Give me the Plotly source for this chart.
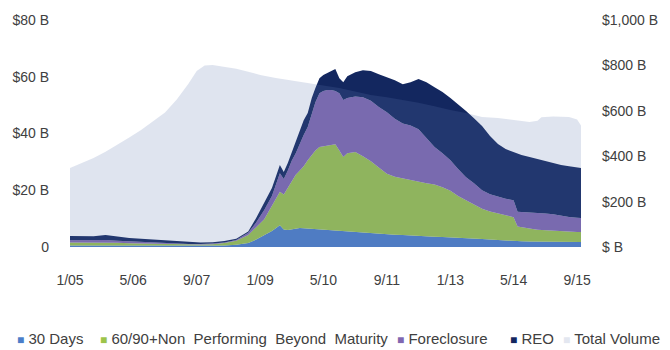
import plotly.graph_objects as go

# Delinquency pipeline, $B, sampled along the observation dates below
dq_dates = [
    "2005-01-01", "2005-04-01", "2005-07-01", "2005-10-01",
    "2006-01-01", "2006-04-01", "2006-07-01", "2006-10-01",
    "2007-01-01", "2007-04-01", "2007-07-01", "2007-10-01",
    "2008-01-01", "2008-04-01", "2008-07-01", "2008-10-01", "2008-12-01",
    "2009-02-01", "2009-04-01", "2009-06-01", "2009-07-01", "2009-08-01",
    "2009-09-01", "2009-10-01", "2009-11-01", "2009-12-01",
    "2010-01-01", "2010-02-01", "2010-03-01", "2010-04-01", "2010-05-01",
    "2010-06-01", "2010-07-01", "2010-08-01", "2010-09-01", "2010-10-01",
    "2010-11-01",
    "2011-01-01", "2011-03-01", "2011-05-01", "2011-07-01", "2011-09-01",
    "2011-11-01",
    "2012-01-01", "2012-03-01", "2012-05-01", "2012-07-01", "2012-09-01",
    "2012-11-01",
    "2013-01-01", "2013-03-01", "2013-05-01", "2013-07-01", "2013-09-01",
    "2013-11-01",
    "2014-01-01", "2014-03-01", "2014-05-01", "2014-06-01", "2014-07-01",
    "2014-09-01", "2014-11-01",
    "2015-01-01", "2015-03-01", "2015-05-01", "2015-07-01", "2015-09-01",
    "2015-10-01",
]

days_30 = [
    0.5, 0.5, 0.5, 0.5, 0.5, 0.4, 0.4, 0.4, 0.4, 0.4, 0.4, 0.4,
    0.4, 0.5, 0.8, 1.4, 2.6,
    4.0, 5.6, 7.7, 6.2, 6.0, 6.3, 6.5, 6.7, 6.6,
    6.5, 6.3, 6.2, 6.2, 6.1, 6.0, 5.9, 5.8, 5.6, 5.4, 5.3,
    5.1, 4.9, 4.8, 4.6, 4.5, 4.3,
    4.2, 4.0, 3.9, 3.8, 3.6, 3.5,
    3.4, 3.3, 3.2, 3.0, 2.8, 2.6,
    2.4, 2.3, 2.2, 2.1, 2.0, 1.9, 1.9,
    1.8, 1.8, 1.8, 1.8, 1.8, 1.8,
]

non_performing = [
    1.1, 1.1, 1.1, 1.2, 1.0, 0.9, 0.8, 0.7, 0.6, 0.5, 0.5, 0.5,
    0.6, 0.9, 1.4, 2.8, 4.4,
    5.8, 8.9, 11.8, 12.3, 15.0, 17.2, 19.0, 20.3, 21.9,
    24.1, 26.2, 27.8, 29.0, 29.4, 29.8, 30.1, 30.4, 28.4, 26.3, 27.7,
    28.4, 27.1, 25.4, 23.4, 21.3, 20.5,
    20.0, 19.5, 19.0, 18.7, 18.4, 17.6,
    16.4, 14.7, 13.3, 12.0, 10.7, 9.9,
    9.4, 8.7, 8.3, 5.1, 4.9, 4.6, 4.2,
    4.1, 3.9, 3.7, 3.6, 3.5, 3.5,
]

foreclosure = [
    0.8, 0.8, 0.7, 0.8, 0.7, 0.7, 0.6, 0.5, 0.4, 0.3, 0.2, 0.2,
    0.2, 0.2, 0.3, 0.8, 1.6,
    3.2, 3.5, 6.5, 5.5, 6.0, 7.0, 7.5, 9.5, 11.0,
    11.7, 14.5, 17.0, 19.0, 19.5, 19.5, 19.3, 18.8, 20.2, 20.1, 19.5,
    19.5, 20.8, 21.3, 21.3, 21.7, 20.4,
    19.3, 19.3, 18.6, 16.0, 13.2, 11.9,
    10.8, 9.5, 8.1, 7.5, 6.5, 6.1,
    6.0, 6.0, 6.0, 5.2, 5.4, 5.7, 6.0,
    5.9, 5.8, 5.5, 5.2, 5.0, 4.9,
]

reo = [
    1.5, 1.4, 1.5, 1.7, 1.4, 1.2, 1.1, 1.0, 0.9, 0.8, 0.6, 0.5,
    0.5, 0.5, 0.4, 0.5, 1.6,
    2.8, 2.8, 2.9, 2.4, 2.6, 3.0, 3.6, 4.7, 5.2,
    4.9, 5.5, 5.0, 5.3, 5.6, 6.0, 6.7, 7.7, 5.3, 6.3, 7.7,
    8.6, 9.5, 10.5, 11.6, 12.4, 13.6,
    13.9, 15.3, 17.7, 19.6, 21.1, 21.6,
    21.9, 22.9, 23.3, 22.9, 22.6, 20.5,
    18.5, 17.5, 17.0, 20.6, 20.1, 19.5, 18.9,
    18.5, 18.1, 17.9, 17.9, 17.9, 17.6,
]

# Total outstanding volume, $B (secondary axis)
tv_dates = [
    "2005-01-01", "2005-04-01", "2005-07-01", "2005-10-01", "2006-01-01",
    "2006-04-01", "2006-07-01", "2006-10-01", "2007-01-01", "2007-04-01",
    "2007-07-01", "2007-09-01", "2007-11-01", "2008-01-01", "2008-03-01",
    "2008-07-01", "2008-10-01", "2009-01-01", "2009-05-01", "2009-09-01",
    "2010-01-01", "2010-05-01", "2010-09-01", "2011-01-01", "2011-05-01",
    "2011-09-01", "2012-01-01", "2012-05-01", "2012-09-01", "2013-01-01",
    "2013-05-01", "2013-09-01", "2014-01-01", "2014-05-01", "2014-09-01",
    "2014-11-01", "2014-12-01", "2015-03-01", "2015-07-01", "2015-09-01",
    "2015-10-01",
]
total_volume = [
    348, 370, 392, 420, 450,
    482, 515, 552, 592, 650,
    720, 775, 800, 802, 797,
    785, 772, 758, 745, 735,
    725, 712, 700, 685, 670,
    660, 648, 635, 620, 603,
    590, 573, 568, 560, 551,
    556, 572, 575, 573, 562,
    535,
]

x_tick_dates = ["2005-01-01", "2006-05-01", "2007-09-01", "2009-01-01",
                "2010-05-01", "2011-09-01", "2013-01-01", "2014-05-01",
                "2015-09-01"]
x_tick_text = ["1/05", "5/06", "9/07", "1/09", "5/10", "9/11", "1/13",
               "5/14", "9/15"]
left_ticks = [0, 20, 40, 60, 80]
left_tick_text = ["0", "$20 B", "$40 B", "$60 B", "$80 B"]
right_ticks = [0, 200, 400, 600, 800, 1000]
right_tick_text = ["$ B", "$200 B", "$400 B", "$600 B", "$800 B", "$1,000 B"]

series_names = ["30 Days", "60/90+Non\u00a0 Performing\u00a0 Beyond\u00a0 Maturity",
                "Foreclosure", "REO", "Total Volume"]
series_colors = ["#4b7ec9", "#9cc44a", "#8067b0", "#13275f", "#e3e7f0"]
stack_values = [days_30, non_performing, foreclosure, reo]

FONT = "Liberation Sans, Arial, sans-serif"
TEXT_COLOR = "#404040"

fig = go.Figure()

for name, color, vals in zip(series_names[:4], series_colors[:4], stack_values):
    fig.add_trace(go.Scatter(
        x=dq_dates, y=vals, name=name, stackgroup="pipeline",
        mode="lines", line=dict(width=0, color=color), fillcolor=color,
        showlegend=False, hoverinfo="x+y+name",
    ))

# Volume area sits on the overlaying axis, so it is painted over the stack
fig.add_trace(go.Scatter(
    x=tv_dates, y=total_volume, name=series_names[4], yaxis="y2",
    fill="tozeroy", mode="lines", line=dict(width=0, color="#c9d2e6"),
    fillcolor="rgba(95,120,175,0.2)", showlegend=False,
))

tick_font = dict(family=FONT, size=14, color=TEXT_COLOR)

fig.update_layout(
    width=670, height=350,
    margin=dict(l=68, r=87, t=20, b=103),
    paper_bgcolor="white", plot_bgcolor="white",
    xaxis=dict(
        type="date", range=["2005-01-01", "2015-10-01"],
        tickmode="array", tickvals=x_tick_dates, ticktext=x_tick_text,
        showgrid=False, zeroline=False, showline=False, ticks="",
        tickfont=tick_font, ticklabelstandoff=23,
    ),
    yaxis=dict(
        range=[0, 80], tickmode="array", tickvals=left_ticks,
        ticktext=left_tick_text, showgrid=False, zeroline=False,
        showline=False, ticks="", tickfont=tick_font, ticklabelstandoff=20,
    ),
    yaxis2=dict(
        range=[0, 1000], overlaying="y", side="right", tickmode="array",
        tickvals=right_ticks, ticktext=right_tick_text, showgrid=False,
        zeroline=False, showline=False, ticks="", tickfont=tick_font,
        ticklabelstandoff=20,
    ),
    showlegend=False,
)

# Legend row along the bottom: colour key square followed by the series name
legend_left_px = [13, 96, 396, 509, 563]
plot_left, plot_width = 68, 670 - 68 - 87
plot_bottom, plot_height = 350 - 103, 350 - 20 - 103
legend_y = (plot_bottom - 338) / plot_height
for name, color, px in zip(series_names, series_colors, legend_left_px):
    fig.add_annotation(
        x=(px - plot_left) / plot_width, y=legend_y,
        xref="paper", yref="paper", xanchor="left", yanchor="middle",
        showarrow=False,
        text=f"<span style='color:{color};font-size:12px'>\u25a0</span> {name}",
        font=dict(family=FONT, size=15, color=TEXT_COLOR),
    )

fig.write_html("out.html")
